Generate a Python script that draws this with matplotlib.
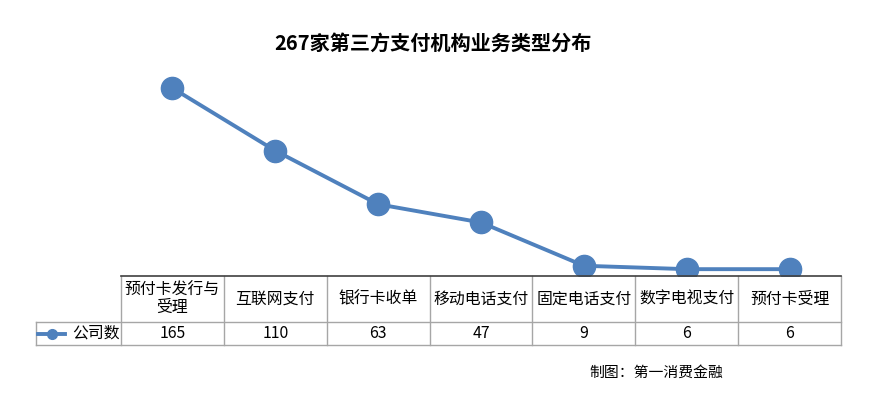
import matplotlib.pyplot as plt
from matplotlib.lines import Line2D
import matplotlib.transforms as mtransforms

plt.rcParams['font.family'] = ['Noto Sans CJK SC', 'DejaVu Sans']

# data
categories = ['预付卡发行与\n受理', '互联网支付', '银行卡收单', '移动电话支付',
              '固定电话支付', '数字电视支付', '预付卡受理']
counts = [165, 110, 63, 47, 9, 6, 6]
series_name = '公司数'
title = '267家第三方支付机构业务类型分布'
source = '制图：第一消费金融'

line_color = '#4F81BD'
grid_color = '#A6A6A6'

W, H = 870, 397
fig = plt.figure(figsize=(W / 100, H / 100), dpi=100)
left, right, top, bottom = 121, 841, 71, 276
ax = fig.add_axes([left / W, 1 - bottom / H, (right - left) / W, (bottom - top) / H])

x = list(range(len(counts)))
ax.plot(x, counts, color=line_color, linewidth=2.8, marker='o',
        markersize=16, markerfacecolor=line_color, markeredgecolor=line_color)
ax.set_xlim(-0.5, len(counts) - 0.5)
ax.set_ylim(0, 180)
ax.set_xticks([])
ax.set_yticks([])
for s in ['left', 'right', 'top']:
    ax.spines[s].set_visible(False)
ax.spines['bottom'].set_color('#404040')
ax.spines['bottom'].set_linewidth(1.2)

# data table below the axis
axh = bottom - top
col_w = (right - left) / len(counts)
y_head = -46 / axh
y_low = -69 / axh
x_label = -0.5 - (left - 36) / col_w
trans = mtransforms.blended_transform_factory(ax.transData, ax.transAxes)

def hline(x0, x1, y):
    ax.add_line(Line2D([x0, x1], [y, y], transform=trans, color=grid_color,
                       linewidth=1, clip_on=False))

def vline(xx, y0, y1):
    ax.add_line(Line2D([xx, xx], [y0, y1], transform=trans, color=grid_color,
                       linewidth=1, clip_on=False))

hline(x_label, len(counts) - 0.5, y_head)
hline(x_label, len(counts) - 0.5, y_low)
for i in range(len(counts) + 1):
    vline(i - 0.5, 0, y_low)
vline(x_label, y_head, y_low)

for i, (c, v) in enumerate(zip(categories, counts)):
    ax.text(i, y_head / 2, c, transform=trans, ha='center', va='center',
            fontsize=11.4, linespacing=1.05, clip_on=False)
    ax.text(i, (y_head + y_low) / 2, str(v), transform=trans, ha='center',
            va='center', fontsize=11.4, clip_on=False)

# legend key in the row label
yk = (y_head + y_low) / 2
ax.add_line(Line2D([x_label + 2 / col_w, x_label + 29 / col_w], [yk, yk],
                   transform=trans, color=line_color, linewidth=2.8, clip_on=False))
ax.add_line(Line2D([x_label + 16 / col_w], [yk], transform=trans, marker='o',
                   markersize=7, color=line_color, clip_on=False))
ax.text(x_label + 36 / col_w, yk, series_name, transform=trans, ha='left',
        va='center', fontsize=11.4, clip_on=False)

fig.text(433 / W, 1 - 43 / H, title, ha='center', va='center',
         fontsize=14.5, fontweight='bold')
fig.text(656 / W, 1 - 373 / H, source, ha='center', va='center', fontsize=10.7)

fig.savefig('out.png', dpi=100)
